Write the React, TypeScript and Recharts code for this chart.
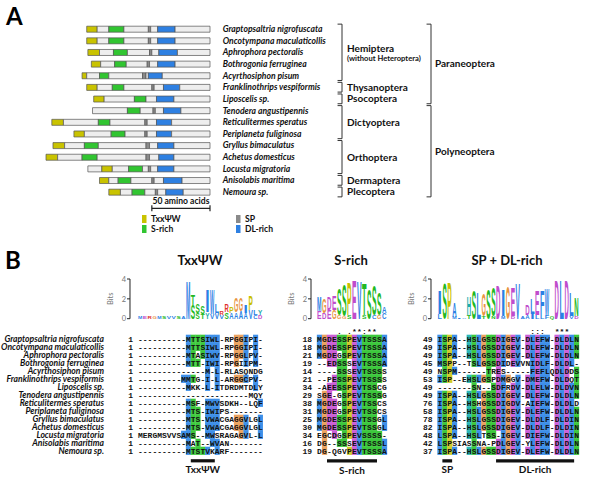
import React from 'react';
import {
  BarChart,
  Bar,
  ScatterChart,
  Scatter,
  XAxis,
  YAxis,
  ReferenceLine,
  ReferenceArea,
} from 'recharts';

const LABEL_FONT = "Lato, 'DejaVu Sans', sans-serif";
const MONO_FONT = "'Liberation Mono', 'DejaVu Sans Mono', monospace";
const LETTER_FONT = "'Liberation Sans', Arial, sans-serif";

const species = [
  'Graptopsaltria nigrofuscata',
  'Oncotympana maculaticollis',
  'Aphrophora pectoralis',
  'Bothrogonia ferruginea',
  'Acyrthosiphon pisum',
  'Franklinothrips vespiformis',
  'Liposcelis sp.',
  'Tenodera angustipennis',
  'Reticulitermes speratus',
  'Periplaneta fuliginosa',
  'Gryllus bimaculatus',
  'Achetus domesticus',
  'Locusta migratoria',
  'Anisolabis maritima',
  'Nemoura sp.',
];

// panel A: protein length and domain spans, amino acids from the N-terminus
const proteinLength = [106, 106, 105, 102, 110, 106, 100, 101, 136, 117, 135, 141, 105, 95, 87];
const txxDomain = [[0, 9], [0, 9], [0, 10], [0, 8], [0, 4], [0, 9], [0, 9], null, [0, 10], [0, 9], [0, 10], [0, 10], [12, 21], [0, 8], [0, 10]];
const sRichDomain = [[19, 32], [19, 32], [22, 34], [20, 30], [15, 23], [22, 32], [35, 45], [30, 41], [40, 50], [32, 44], [27, 39], [31, 44], [35, 47], [16, 27], [20, 31]];
const spSite = [[53, 55], [53, 55], [53, 55], [48, 50], [52, 55], [56, 58], null, [52, 54], [80, 82], [61, 63], [80, 83], [86, 89], [52, 54], [45, 47], [40, 42]];
const dlDomain = [[61, 76], [61, 76], [61, 77], [57, 72], [57, 69], [66, 80], [54, 69], [61, 76], [90, 103], [71, 84], [90, 104], [97, 110], [60, 74], [55, 71], [49, 64]];

const orderNames = ['Hemiptera', 'Thysanoptera', 'Psocoptera', 'Dictyoptera', 'Orthoptera', 'Dermaptera', 'Plecoptera'];
const orderNotes = ['(without Heteroptera)', '', '', '', '', '', ''];
const orderFirst = [0, 5, 6, 7, 10, 13, 14];
const orderLast = [4, 5, 6, 9, 12, 13, 14];
const superNames = ['Paraneoptera', 'Polyneoptera'];
const superFirst = [0, 7];
const superLast = [6, 14];

const legendNames = ['TxxΨW', 'S-rich', 'SP', 'DL-rich'];
const scaleBarAa = 50;

// panel B: sequence logos (top residue + second residue per column, in bits)
const logoTxxTop = 'MERGMSVVSAMTSSIWLRRPGGIPLY';
const logoTxxTopBits = [0.2, 0.2, 0.2, 0.2, 0.2, 0.2, 0.2, 0.2, 0.2, 0.25, 3.9, 1.1, 0.9, 0.8, 2.3, 2.5, 0.9, 0.4, 0.8, 0.7, 1.4, 1.3, 0.8, 1.5, 0.5, 0.5];
const logoTxxSub = '           SSTYVVVSAAAAVCDL';
const logoTxxSubBits = [0, 0, 0, 0, 0, 0, 0, 0, 0, 0, 0, 1.4, 0.6, 0.5, 0.7, 0.5, 0.6, 0.4, 0.7, 0.6, 0.7, 0.8, 0.6, 0.9, 0.4, 0.4];

const logoSTop = 'MGDESSPEVTSSSA';
const logoSTopBits = [1.4, 1.4, 1.3, 1.5, 2.6, 3.2, 3.3, 4.0, 3.9, 3.2, 3.1, 3.0, 2.2, 0.6];
const logoSSub = 'EDEGGGS  S CGC';
const logoSSubBits = [0.8, 0.6, 0.9, 0.9, 0.4, 0.3, 0.4, 0, 0, 0.4, 0, 0.4, 0.4, 0.6];

const logoDlTop = 'ISPA--HSLGSSDIGEV-DLEFW-DLDLN';
const logoDlTopBits = [2.4, 3.6, 3.8, 1.4, 0, 0, 1.8, 2.9, 2.7, 2.2, 3.0, 2.9, 3.5, 2.6, 3.3, 2.9, 3.6, 0, 1.1, 1.6, 2.5, 2.5, 2.7, 0, 4.0, 4.0, 4.0, 2.4, 1.8];
const logoDlSub = 'L  MIAT  T N M D AAILLFQ   VD';
const logoDlSubBits = [0.5, 0, 0, 0.2, 0.15, 0.15, 0.4, 0, 0, 0.3, 0, 0.3, 0, 0.3, 0, 0.3, 0, 0.2, 0.4, 0.5, 0.4, 0.4, 0.4, 0.2, 0, 0, 0, 0.3, 0.3];

// panel B: alignments
const alignTxx = [
  '----------MTTSIWL-RPGGIPI-',
  '----------MTTSIWL-RPGGIPI-',
  '----------MTASIWV-RPGGLPV-',
  '----------MTT-IWI-RPGIIPM-',
  '--------------M-L-RLASQNDG',
  '---------MMTG-I-L-ARGGCPV-',
  '----------MKK-L-ITDRDMTDLY',
  '-----------------------MQY',
  '----------MSF-MWVSDKH--LQF',
  '----------MTS-IWIPS-------',
  '----------MTS-VWACGAGGVLGL',
  '----------MTS-VWACGAGGVLGL',
  'MERGMSVVSAMS--MWSRAGAGVL-L',
  '----------MAT--WVAN-------',
  '----------MTSTVKARF-------',
];
const txxStart = [1, 1, 1, 1, 1, 1, 1, 1, 1, 1, 1, 1, 1, 1, 1];
const txxEnd = [14, 14, 14, 13, 10, 13, 14, 3, 13, 8, 15, 15, 23, 7, 9];

const alignS = [
  'MGDESSPEVTSSSA',
  'MGDESSPEVTSSSA',
  'MGDEGSPEVTSSSA',
  '--EDSSSEVTSSSA',
  '----SSSEVTSSSS',
  '--PESSPEVTSSSS',
  '-AEESSPEVTSSCG',
  'SGE-GSPEVTSSSG',
  'MGDEGSPEVTSSCS',
  'MGDEGSPEVTSSCS',
  'MGDESSPEVTSSGL',
  'MGDESSPEVTSSGL',
  'EGCDGSPEVSSSS-',
  'DG--SSSEVTSSSL',
  'DG-QGVPEVTSSSA',
];
const sStart = [18, 18, 21, 19, 14, 21, 34, 29, 38, 31, 25, 30, 34, 16, 19];
const sEnd = [31, 31, 34, 30, 23, 32, 46, 41, 51, 44, 38, 43, 46, 27, 31];
const sConsensus = '    . .**:**  ';

const alignDl = [
  'ISPA--HSLGSSDIGEV-DLEFW-DLDLN',
  'ISPA--HSLGSSDIGEV-DLEFW-DLDLN',
  'ISPA--HSLGSSDIGEV-DLEFW-DLDLN',
  'MSPP--TSLGSSDIDEVVNIDLF-DLDL-',
  'NSPM------TRES-----FEFLQDLDDS',
  'ISP--EHSLGSPDMGGV-DMEFW-DLDQT',
  '-------SN--SDFRDV-DLELW-DLDVN',
  'ISPA--HSLGSSDIGEV-DLEFW-DLDLN',
  'ISPA--HSHGSSDIGDV-AIEFW-DLDLD',
  'ISPA--HSLGSSDIGEV-DLEFW-DLDLN',
  'ISPA--HSLGSSDIGEV-DLDLF-DLDIN',
  'ISPA--HSLGSSDIGEV-DLDLF-DLDIN',
  'LSPA--HSLTSS-IGEV-DIEFW-DLDIN',
  'LSPSIASSNA-PDLGEV-YLEFW-DLDLN',
  'ISPA--HSLGSSDIGEV-DLEFW-DLDLN',
];
const dlStart = [49, 49, 49, 45, 49, 53, 49, 49, 76, 58, 78, 82, 48, 42, 37];
const dlEnd = [73, 73, 73, 69, 66, 77, 66, 73, 100, 82, 102, 106, 71, 67, 61];
const dlConsensus = '                   :::  ***  ';

// motif bars under the alignments (1-based columns)
const txxMark = [12, 16];
const sMark = [3, 12];
const spMark = [2, 3];
const dlMark = [13, 28];

const residueClass = (c: string) => {
  if ('AILMFWVC'.includes(c)) return 'hyd';
  if ('STNQ'.includes(c)) return 'pol';
  if ('DE'.includes(c)) return 'neg';
  if ('KR'.includes(c)) return 'pos';
  if (c === 'G') return 'gly';
  if (c === 'P') return 'pro';
  if ('HY'.includes(c)) return 'aro';
  return 'gap';
};
const LETTER_COLOR: Record<string, string> = {
  hyd: '#2a80e4', pol: '#22b822', neg: '#c04ccc', pos: '#e0302a',
  gly: '#e8943f', pro: '#c8c000', aro: '#1aabab', gap: '#999',
};
const SHADE: Record<string, string> = {
  hyd: '#3d8fe8', pol: '#3cc83c', neg: '#cc5fd6', pos: '#e8473f',
  gly: '#eca25f', pro: '#cfcb2a', aro: '#2ab7b7',
};

const PANEL_A_COLORS = ['#eeeeee', '#c9c300', '#eeeeee', '#31c531', '#eeeeee', '#8a8a8a', '#eeeeee', '#2e80e2', '#eeeeee'];
const segKeys = ['gap0', 'dom0', 'gap1', 'dom1', 'gap2', 'dom2', 'gap3', 'dom3', 'gap4'];

const maxLen = Math.max(...proteinLength);
const rowsA = species.map((name, i) => {
  const row: any = { name, pad: maxLen - proteinLength[i] };
  let cur = 0;
  [txxDomain[i], sRichDomain[i], spSite[i], dlDomain[i]].forEach((p, k) => {
    const s = p ? p[0] : cur;
    const e = p ? p[1] : cur;
    row['gap' + k] = s - cur;
    row['dom' + k] = e - s;
    cur = e;
  });
  row.gap4 = proteinLength[i] - cur;
  return row;
});

const rowIdx = species.map((_, i) => i);

// panel A vertical geometry
const A_TOP = 23.2;
const A_STEP = 11.64;

const orderPts = orderNames.map((name, i) => ({
  x: 0, y: (orderFirst[i] + orderLast[i]) / 2, name, note: orderNotes[i], first: orderFirst[i], last: orderLast[i],
}));
const superPts = superNames.map((name, i) => ({
  x: 1, y: (superFirst[i] + superLast[i]) / 2, name, note: '', first: superFirst[i], last: superLast[i],
}));
const scaleBarPts = [{ x: maxLen - scaleBarAa, y: 15.4 }, { x: maxLen, y: 15.4 }];

const groupLabel = (props: any) => {
  const { cx, cy, payload } = props;
  const dx = payload.x === 0 ? 5 : 4;
  if (payload.note) {
    return (
      <g>
        <text x={cx + dx} y={cy - 4} dy={3.5} fontFamily={LABEL_FONT} fontWeight="bold" fontSize={10} fill="#111">{payload.name}</text>
        <text x={cx + dx} y={cy + 6} dy={2.7} fontFamily={LABEL_FONT} fontWeight="bold" fontSize={7.6} fill="#111">{payload.note}</text>
      </g>
    );
  }
  return <text x={cx + dx} y={cy} dy={3.5} fontFamily={LABEL_FONT} fontWeight="bold" fontSize={10} fill="#111">{payload.name}</text>;
};

const scaleTick = (props: any) => {
  const { cx, cy } = props;
  return <line x1={cx} x2={cx} y1={cy - 3} y2={cy + 3} stroke="#222" strokeWidth={1.2} />;
};

function PanelA() {
  return (
    <>
      <div style={{ position: 'absolute', left: 0, top: 0 }}>
        <BarChart layout="vertical" width={600} height={215} data={rowsA} barSize={6}
          margin={{ top: A_TOP, right: 0, bottom: 215 - A_TOP - 15 * A_STEP, left: 46 }}>
          <XAxis type="number" domain={[0, maxLen]} hide />
          <YAxis type="category" dataKey="name" orientation="right" width={390} interval={0}
            axisLine={false} tickLine={false} tickSize={0} tickMargin={0}
            tick={(p: any) => (
              <text x={p.x + 12.7} y={p.y} dy={3} textAnchor="start" fontFamily={LABEL_FONT}
                fontStyle="italic" fontWeight="bold" fontSize={8.6} fill="#111">{p.payload.value}</text>
            )} />
          <Bar dataKey="pad" stackId="a" fill="transparent" isAnimationActive={false} />
          {segKeys.map((k, i) => (
            <Bar key={k} dataKey={k} stackId="a" fill={PANEL_A_COLORS[i]} stroke="#555" strokeWidth={0.7} isAnimationActive={false} />
          ))}
        </BarChart>
      </div>
      <div style={{ position: 'absolute', left: 0, top: 0 }}>
        <ScatterChart width={600} height={220}
          margin={{ top: A_TOP, right: 390, bottom: 220 - A_TOP - 16.5 * A_STEP, left: 46 }}>
          <XAxis type="number" dataKey="x" domain={[0, maxLen]} hide />
          <YAxis type="number" dataKey="y" domain={[-0.5, 16]} reversed hide />
          <Scatter data={scaleBarPts} line={{ stroke: '#222', strokeWidth: 1.2 }} shape={scaleTick} isAnimationActive={false} />
          <ReferenceLine segment={[scaleBarPts[0], scaleBarPts[1]]} stroke="none"
            label={{ value: `${scaleBarAa} amino acids`, position: 'top', offset: 4, fontFamily: LABEL_FONT, fontWeight: 'bold', fontSize: 8.6, fill: '#111' }} />
        </ScatterChart>
      </div>
      <div style={{ position: 'absolute', left: 0, top: 0 }}>
        <ScatterChart width={520} height={215}
          margin={{ top: A_TOP, right: 89, bottom: 215 - A_TOP - 15 * A_STEP, left: 342 }}>
          <XAxis type="number" dataKey="x" domain={[0, 1]} hide />
          <YAxis type="number" dataKey="y" domain={[-0.5, 14.5]} reversed hide />
          {[...orderPts, ...superPts].map((g) => {
            const a = g.first - 0.42;
            const b = g.last + 0.42;
            const tx = g.x - 0.05;
            return (
              <React.Fragment key={g.name}>
                <ReferenceLine segment={[{ x: g.x, y: a }, { x: g.x, y: b }]} stroke="#333" strokeWidth={1} ifOverflow="visible" />
                <ReferenceLine segment={[{ x: tx, y: a }, { x: g.x, y: a }]} stroke="#333" strokeWidth={1} ifOverflow="visible" />
                <ReferenceLine segment={[{ x: tx, y: b }, { x: g.x, y: b }]} stroke="#333" strokeWidth={1} ifOverflow="visible" />
              </React.Fragment>
            );
          })}
          <Scatter data={orderPts} shape={groupLabel} isAnimationActive={false} />
          <Scatter data={superPts} shape={groupLabel} isAnimationActive={false} />
        </ScatterChart>
      </div>
    </>
  );
}

const letterShape = (which: 'top' | 'sub') => (props: any) => {
  const { x, y, width, height, payload } = props;
  const ch = payload[which];
  if (!ch || ch === ' ' || ch === '-' || !(height > 0.2)) return <g />;
  return (
    <text transform={`translate(${x},${y + height}) scale(1,${height / 7.16})`} x={0} y={0}
      fontSize={10} fontFamily={LETTER_FONT} fontWeight="bold" textLength={width}
      lengthAdjust="spacingAndGlyphs" fill={LETTER_COLOR[residueClass(ch)]}>{ch}</text>
  );
};
const topLetter = letterShape('top');
const subLetter = letterShape('sub');

function Logo({ top, topBits, sub, subBits, axisX, firstX, colW }: any) {
  const n = top.length;
  const data = top.split('').map((c: string, i: number) => {
    const sb = Math.min(subBits[i], 4);
    return { x: i, top: c, sub: sub[i], subBits: sb, topBits: Math.min(topBits[i], 4 - sb) };
  });
  const gap = (firstX - axisX) / colW;
  const plotW = n * colW + (firstX - axisX);
  return (
    <div style={{ position: 'absolute', left: axisX - 32, top: 272 }}>
      <BarChart width={32 + plotW + 3} height={52} data={data} barSize={colW}
        margin={{ top: 7, right: 3, bottom: 5.3, left: 0 }}>
        <XAxis type="number" dataKey="x" domain={[-0.5 - gap, n - 0.5]} hide />
        <YAxis type="number" domain={[0, 4]} ticks={[0, 2, 4]} width={32} tickSize={3} tickMargin={1}
          axisLine={{ stroke: '#222' }} tickLine={{ stroke: '#222' }}
          tick={{ fontSize: 7.5, fill: '#777', fontFamily: LABEL_FONT }}
          label={{ value: 'Bits', angle: -90, position: 'center', fontSize: 7.5, fill: '#777', fontFamily: LABEL_FONT, dx: -4 }} />
        <Bar dataKey="subBits" stackId="s" shape={subLetter} isAnimationActive={false} />
        <Bar dataKey="topBits" stackId="s" shape={topLetter} isAnimationActive={false} />
      </BarChart>
    </div>
  );
}

const cellShape = (colW: number) => (props: any) => {
  const { cx, cy, payload } = props;
  return (
    <g>
      {payload.bg && <rect x={cx - colW / 2 - 0.15} y={cy - 4.1} width={colW + 0.3} height={8.2} fill={payload.bg} />}
      <text x={cx} y={cy + 2.8} textAnchor="middle" fontFamily={MONO_FONT} fontWeight="bold" fontSize={8} fill="#111">{payload.ch}</text>
    </g>
  );
};

const ROW0 = 338.8;
const ROW_STEP = 8;
const B_TOP = 320;
const B_H = 158;

function AlignBlock({ seqs, starts, ends, cons, marks, left, plotLeft, colW, rightW, names }: any) {
  const n = seqs[0].length;
  const cells: any[] = [];
  for (let c = 0; c < n; c++) {
    const counts: Record<string, number> = {};
    let nonGap = 0;
    seqs.forEach((s: string) => {
      if (s[c] !== '-') {
        nonGap++;
        const k = residueClass(s[c]);
        counts[k] = (counts[k] || 0) + 1;
      }
    });
    seqs.forEach((s: string, r: number) => {
      const k = residueClass(s[c]);
      const shaded = s[c] !== '-' && counts[k] >= 2 && counts[k] / nonGap >= 0.5;
      cells.push({ x: c, y: r, ch: s[c], bg: shaded ? SHADE[k] : undefined });
    });
  }
  const consPts = cons
    ? cons.split('').map((ch: string, c: number) => ({ x: c, y: -1, ch })).filter((p: any) => p.ch !== ' ')
    : [];
  const topY = ROW0 - 1.5 * ROW_STEP;
  const botY = ROW0 + 14.5 * ROW_STEP;
  const shape = cellShape(colW);
  return (
    <div style={{ position: 'absolute', left, top: B_TOP }}>
      <ScatterChart width={plotLeft - left + n * colW + rightW} height={B_H}
        margin={{ top: topY - B_TOP, right: 0, bottom: B_TOP + B_H - botY, left: 0 }}>
        <XAxis type="number" dataKey="x" domain={[-0.5, n - 0.5]} hide />
        <YAxis yAxisId="l" type="number" dataKey="y" domain={[-1.5, 14.5]} reversed ticks={rowIdx} interval={0}
          width={plotLeft - left} axisLine={false} tickLine={false} tickSize={0} tickMargin={0}
          tick={(p: any) => (
            <g>
              {names && (
                <text x={p.x - 34} y={p.y} dy={3} textAnchor="end" fontFamily={LABEL_FONT} fontStyle="italic"
                  fontWeight="bold" fontSize={8.6} fill="#111">{species[p.payload.value]}</text>
              )}
              <text x={p.x - 5} y={p.y} dy={2.8} textAnchor="end" fontFamily={MONO_FONT} fontWeight="bold"
                fontSize={8} fill="#111">{starts[p.payload.value]}</text>
            </g>
          )} />
        <YAxis yAxisId="r" orientation="right" type="number" domain={[-1.5, 14.5]} reversed ticks={rowIdx} interval={0}
          width={rightW} axisLine={false} tickLine={false} tickSize={0} tickMargin={0}
          tick={(p: any) => (
            <text x={p.x + 4.5} y={p.y} dy={2.8} textAnchor="start" fontFamily={MONO_FONT} fontWeight="bold"
              fontSize={8} fill="#111">{ends[p.payload.value]}</text>
          )} />
        <Scatter yAxisId="l" data={cells} shape={shape} isAnimationActive={false} />
        {consPts.length > 0 && <Scatter yAxisId="l" data={consPts} shape={shape} isAnimationActive={false} />}
        {marks.map((m: any) => (
          <ReferenceArea key={m.label} yAxisId="l" x1={m.range[0] - 1.5} x2={m.range[1] - 0.5} y1={15.05} y2={15.45}
            fill="#111" fillOpacity={1} stroke="none" ifOverflow="visible"
            label={{ value: m.label, position: 'bottom', offset: 4, fontFamily: LABEL_FONT, fontWeight: 'bold', fontSize: 10, fill: '#111' }} />
        ))}
      </ScatterChart>
    </div>
  );
}

function Overlay() {
  const legendX = [142, 236];
  const legendColors = [PANEL_A_COLORS[1], PANEL_A_COLORS[3], PANEL_A_COLORS[5], PANEL_A_COLORS[7]];
  return (
    <svg width={600} height={482} style={{ position: 'absolute', left: 0, top: 0, pointerEvents: 'none' }}>
      <text x={6} y={25} fontFamily={LABEL_FONT} fontWeight="bold" fontSize={24} fill="#000">A</text>
      <text x={5} y={269} fontFamily={LABEL_FONT} fontWeight="bold" fontSize={24} fill="#000">B</text>
      <text x={200} y={265} textAnchor="middle" fontFamily={LABEL_FONT} fontWeight="bold" fontSize={13} fill="#111">TxxΨW</text>
      <text x={351} y={265} textAnchor="middle" fontFamily={LABEL_FONT} fontWeight="bold" fontSize={13} fill="#111">S-rich</text>
      <text x={507} y={265} textAnchor="middle" fontFamily={LABEL_FONT} fontWeight="bold" fontSize={13} fill="#111">SP + DL-rich</text>
      {legendNames.map((name, i) => {
        const x = legendX[i < 2 ? 0 : 1];
        const y = 215 + (i % 2) * 10;
        return (
          <g key={name}>
            <rect x={x} y={y} width={4.5} height={8} fill={legendColors[i]} />
            <text x={x + 9} y={y + 7} fontFamily={LABEL_FONT} fontWeight="bold" fontSize={8.6} fill="#111">{name}</text>
          </g>
        );
      })}
    </svg>
  );
}

export default function App() {
  return (
    <div style={{ position: 'absolute', left: 0, top: 0, width: 600, height: 482, background: '#fff', overflow: 'hidden' }}>
      <PanelA />
      <Logo top={logoTxxTop} topBits={logoTxxTopBits} sub={logoTxxSub} subBits={logoTxxSubBits} axisX={130} firstX={138} colW={4.8} />
      <Logo top={logoSTop} topBits={logoSTopBits} sub={logoSSub} subBits={logoSSubBits} axisX={311} firstX={317} colW={5.0} />
      <Logo top={logoDlTop} topBits={logoDlTopBits} sub={logoDlSub} subBits={logoDlSubBits} axisX={431} firstX={437.5} colW={4.88} />
      <AlignBlock seqs={alignTxx} starts={txxStart} ends={txxEnd} marks={[{ label: 'TxxΨW', range: txxMark }]}
        left={0} plotLeft={138} colW={4.8} rightW={30} names />
      <AlignBlock seqs={alignS} starts={sStart} ends={sEnd} cons={sConsensus} marks={[{ label: 'S-rich', range: sMark }]}
        left={280} plotLeft={317} colW={5.0} rightW={25} />
      <AlignBlock seqs={alignDl} starts={dlStart} ends={dlEnd} cons={dlConsensus}
        marks={[{ label: 'SP', range: spMark }, { label: 'DL-rich', range: dlMark }]}
        left={400} plotLeft={437.5} colW={4.88} rightW={20.5} />
      <Overlay />
    </div>
  );
}
